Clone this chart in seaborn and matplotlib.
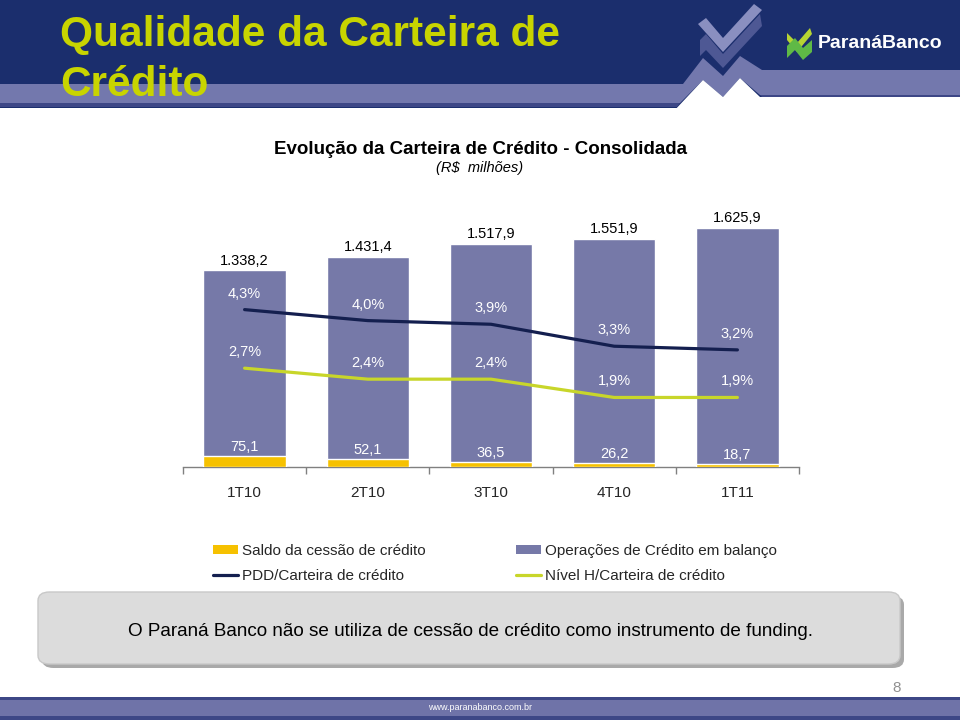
import numpy as np
import matplotlib
matplotlib.use("Agg")
import matplotlib.pyplot as plt
import seaborn as sns
from matplotlib.patches import Patch, Polygon, FancyBboxPatch
from matplotlib.lines import Line2D

# ---------------- data ----------------
quarters = ["1T10", "2T10", "3T10", "4T10", "1T11"]
total_carteira = [1338.2, 1431.4, 1517.9, 1551.9, 1625.9]
saldo_cessao = [75.1, 52.1, 36.5, 26.2, 18.7]
pdd_carteira = [4.3, 4.0, 3.9, 3.3, 3.2]
nivel_h = [2.7, 2.4, 2.4, 1.9, 1.9]

total_labels = ["1.338,2", "1.431,4", "1.517,9", "1.551,9", "1.625,9"]
cessao_labels = ["75,1", "52,1", "36,5", "26,2", "18,7"]
pdd_labels = ["4,3%", "4,0%", "3,9%", "3,3%", "3,2%"]
nivel_labels = ["2,7%", "2,4%", "2,4%", "1,9%", "1,9%"]

# ---------------- style ----------------
sns.set_theme(style="white")
plt.rcParams["font.family"] = ["Liberation Sans", "DejaVu Sans"]

PURPLE = "#7679a8"
YELLOW = "#f6c100"
NAVY = "#141f4f"
LIME = "#c8d62a"
HEADER = "#1b2e6d"
LAV = "#7378ad"
DARKLAV = "#3d4786"

W, H = 960, 720
fig = plt.figure(figsize=(9.6, 7.2), dpi=100)
fig.patch.set_facecolor("white")


def P(x, y):
    return (x / W, 1 - y / H)


def poly(pts, color, z=0):
    fig.patches.append(Polygon([P(*p) for p in pts], closed=True, transform=fig.transFigure,
                               facecolor=color, edgecolor="none", zorder=z))


# ---------------- header ----------------
poly([(0, 0), (960, 0), (960, 108), (0, 108)], HEADER)
# lavender band with mountain profile
poly([(0, 84), (683, 84), (703, 58), (723, 76), (740, 56), (762, 70), (960, 70), (960, 95),
      (760, 95), (740, 78), (723, 97), (703, 80), (680, 103), (0, 103)], LAV)
poly([(0, 103), (680, 103), (677, 107), (0, 107)], DARKLAV)
poly([(760, 95), (960, 95), (960, 98), (763, 98)], DARKLAV)
# checkmark
poly([(698, 24), (706, 18), (723, 38), (754, 4), (762, 10), (723, 52)], "#8a8fc0")
poly([(700, 40), (706, 34), (723, 54), (760, 14), (762, 26), (723, 68), (706, 50), (700, 56)], "#4e5894")
# white mountains
poly([(673, 112), (703, 80), (723, 97), (740, 78), (760, 97), (960, 97), (960, 112)], "white")

fig.text(60 / W, 1 - 35 / H, "Qualidade da Carteira de", color="#c8d400", fontsize=30.5,
         fontweight="bold", va="center", ha="left")
fig.text(60 / W, 1 - 85 / H, "Crédito", color="#c8d400", fontsize=30.5,
         fontweight="bold", va="center", ha="left")

# logo
poly([(787, 33), (797, 43), (810, 28), (812, 34), (797, 52), (787, 40)], "#b7d433", 3)
poly([(787, 46), (795, 38), (803, 48), (812, 40), (812, 52), (803, 60), (795, 50), (787, 58)], "#5fb946", 3)
fig.text(880 / W, 1 - 44 / H, "ParanáBanco", color="white", fontsize=14, fontweight="bold",
         va="center", ha="center")

# ---------------- chart titles ----------------
fig.text(480 / W, 1 - 149 / H, "Evolução da Carteira de Crédito - Consolidada", fontsize=13.5,
         fontweight="bold", ha="center", va="center", color="black")
fig.text(480 / W, 1 - 168 / H, "(R$  milhões)", fontsize=10.5, fontstyle="italic",
         ha="center", va="center", color="black")

# ---------------- chart ----------------
ax = fig.add_axes([183 / W, 1 - 467 / H, 616 / W, 267 / H])
x = np.arange(len(quarters))
sns.barplot(x=quarters, y=total_carteira, color=PURPLE, saturation=1, width=0.67, ax=ax, zorder=2)
sns.barplot(x=quarters, y=saldo_cessao, color=YELLOW, saturation=1, width=0.67, ax=ax, zorder=3)
ax.set_xlim(-0.5, len(quarters) - 0.5)
ax.set_ylim(0, 1816)
ax.set_yticks([])
ax.set_xlabel("")
ax.set_ylabel("")
for s in ["left", "right", "top"]:
    ax.spines[s].set_visible(False)
ax.spines["bottom"].set_color("#808080")
ax.spines["bottom"].set_linewidth(1.0)
ax.set_xticks(x)
ax.set_xticklabels(quarters, fontsize=11)
ax.tick_params(axis="x", which="major", length=0, pad=14)
ax.set_xticks(np.arange(-0.5, len(quarters), 1.0), minor=True)
ax.tick_params(axis="x", which="minor", length=5, color="#808080", direction="out", bottom=True)

for xi, v, lab in zip(x, total_carteira, total_labels):
    ax.annotate(lab, (xi, v), xytext=(0, 7), textcoords="offset points", ha="center",
                va="center", fontsize=10.5, color="black", zorder=5)
for xi, v, lab in zip(x, saldo_cessao, cessao_labels):
    ax.annotate(lab, (xi, v), xytext=(0, 6.5), textcoords="offset points", ha="center",
                va="center", fontsize=10.5, color="white", zorder=5)

ax2 = ax.twinx()
sns.lineplot(x=x, y=pdd_carteira, color=NAVY, linewidth=2.3, ax=ax2, zorder=4)
sns.lineplot(x=x, y=nivel_h, color=LIME, linewidth=2.3, ax=ax2, zorder=4)
ax2.set_ylim(0, 267 / 36.6)
ax2.set_yticks([])
ax2.set_ylabel("")
for s in ["left", "right", "top", "bottom"]:
    ax2.spines[s].set_visible(False)
for xi, v, lab in zip(x, pdd_carteira, pdd_labels):
    ax2.annotate(lab, (xi, v), xytext=(0, 11.5), textcoords="offset points", ha="center",
                 va="center", fontsize=10.5, color="white")
for xi, v, lab in zip(x, nivel_h, nivel_labels):
    ax2.annotate(lab, (xi, v), xytext=(0, 11.5), textcoords="offset points", ha="center",
                 va="center", fontsize=10.5, color="white")

# ---------------- legend ----------------
handles = [
    Patch(facecolor=YELLOW, edgecolor="none"),
    Line2D([], [], color=NAVY, linewidth=2.3),
    Patch(facecolor=PURPLE, edgecolor="none"),
    Line2D([], [], color=LIME, linewidth=2.3),
]
labels = ["Saldo da cessão de crédito", "PDD/Carteira de crédito",
          "Operações de Crédito em balanço", "Nível H/Carteira de crédito"]
fig.legend(handles, labels, ncol=2, loc="upper left", bbox_to_anchor=(213 / W, 1 - 544 / H),
           frameon=False, fontsize=11, handlelength=1.65, handleheight=0.55, handletextpad=0.25,
           columnspacing=5.9, labelspacing=0.72, borderpad=0, borderaxespad=0)

# ---------------- note box ----------------
fig.patches.append(FancyBboxPatch(P(42, 668), 862 / W, 72 / H, boxstyle="round,pad=0,rounding_size=0.012",
                                  transform=fig.transFigure, facecolor="#a9a9a9", edgecolor="none", zorder=1))
fig.patches.append(FancyBboxPatch(P(38, 664), 862 / W, 72 / H, boxstyle="round,pad=0,rounding_size=0.012",
                                  transform=fig.transFigure, facecolor="#dcdcdc", edgecolor="#c8c8c8", zorder=2))
fig.text(470 / W, 1 - 631 / H, "O Paraná Banco não se utiliza de cessão de crédito como instrumento de funding.",
         fontsize=13.6, ha="center", va="center", color="black", zorder=3)

# ---------------- footer ----------------
fig.text(897 / W, 1 - 688 / H, "8", fontsize=11, color="#909090", ha="center", va="center")
poly([(0, 697), (960, 697), (960, 720), (0, 720)], "#6f73a8")
poly([(0, 697), (960, 697), (960, 700), (0, 700)], DARKLAV)
poly([(0, 716), (960, 716), (960, 720), (0, 720)], DARKLAV)
fig.text(480 / W, 1 - 708 / H, "www.paranabanco.com.br", fontsize=6.5, color="white",
         ha="center", va="center", zorder=5)

fig.savefig("out.png", dpi=100)
